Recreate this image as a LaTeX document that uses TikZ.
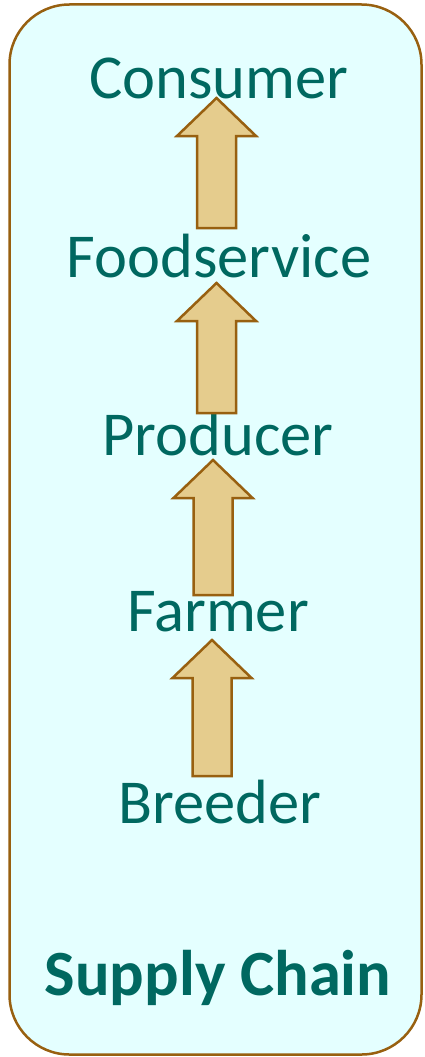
\documentclass[tikz,border=0pt]{standalone}
\usepackage{fontspec}
\setmainfont{Carlito}
\usepackage{tikz}
\usetikzlibrary{calc}
\definecolor{chainteal}{RGB}{0,104,96}
\definecolor{chainbrown}{RGB}{152,96,16}
\definecolor{chainfill}{RGB}{228,255,255}
\definecolor{arrowfill}{RGB}{229,204,141}

\begin{document}
\begin{tikzpicture}[x=1pt,y=-1pt,
    stage/.style={text=chainteal, font=\fontsize{62.5}{70}\selectfont, anchor=base, inner sep=0pt},
    blockarrow/.style={draw=chainbrown, fill=arrowfill, line width=2.5pt, line join=miter}]
  \useasboundingbox (0,0) rectangle (424,1057);
  \newcommand\headLen{38}

  % outer box
  \draw[draw=chainbrown, fill=chainfill, line width=2.5pt, rounded corners=60pt]
    (9.5,4.5) rectangle (421.5,1054.5);

  % stages, top to bottom
  \node[stage] (consumer)    at (219,98)  {Consumer};
  \node[stage] (foodservice) at (219,277) {Foodservice};
  \node[stage] (producer)    at (218,455) {Producer};
  \node[stage] (farmer)      at (218,631) {Farmer};
  \node[stage] (breeder)     at (220,823) {Breeder};
  \node[stage, font=\fontsize{64.5}{70}\selectfont\bfseries] (chain) at (218,995) {Supply Chain};

  % block arrows: centre / tip / bottom
  \foreach \cx/\tip/\bot in {216.5/98/228, 216.5/283/413, 213/460/595, 212/640/776}{
    \draw[blockarrow] (\cx,\tip) -- (\cx+39.5,\tip+\headLen) -- (\cx+19.5,\tip+\headLen)
      -- (\cx+19.5,\bot) -- (\cx-19.5,\bot) -- (\cx-19.5,\tip+\headLen)
      -- (\cx-39.5,\tip+\headLen) -- cycle;
  }

\end{tikzpicture}
\end{document}
